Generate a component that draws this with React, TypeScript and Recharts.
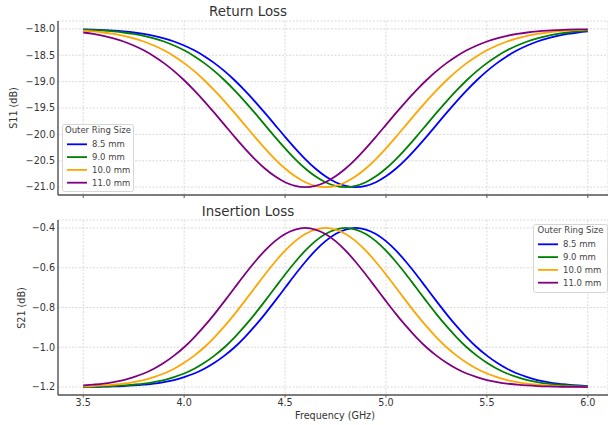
import React from 'react';
import { LineChart, Line, XAxis, YAxis, CartesianGrid } from 'recharts';

const freqs = [
  3.5, 3.55, 3.6, 3.65, 3.7, 3.75, 3.8, 3.85, 3.9, 3.95,
  4.0, 4.05, 4.1, 4.15, 4.2, 4.25, 4.3, 4.35, 4.4, 4.45,
  4.5, 4.55, 4.6, 4.65, 4.7, 4.75, 4.8, 4.85, 4.9, 4.95,
  5.0, 5.05, 5.1, 5.15, 5.2, 5.25, 5.3, 5.35, 5.4, 5.45,
  5.5, 5.55, 5.6, 5.65, 5.7, 5.75, 5.8, 5.85, 5.9, 5.95, 6.0,
];

const seriesNames = ['8.5 mm', '9.0 mm', '10.0 mm', '11.0 mm'];
const seriesColors = ['#0000ff', '#008000', '#ffa500', '#800080'];

// Return loss S11 (dB)
const s11_85 = [
  -18.010, -18.015, -18.023, -18.033, -18.048, -18.068, -18.096, -18.132, -18.179, -18.239,
  -18.314, -18.406, -18.517, -18.649, -18.801, -18.974, -19.166, -19.373, -19.593, -19.820,
  -20.046, -20.264, -20.468, -20.648, -20.796, -20.908, -20.977, -21.000,
  -20.977, -20.908, -20.796, -20.648, -20.468, -20.264, -20.046, -19.820, -19.593, -19.373,
  -19.166, -18.974, -18.801, -18.649, -18.517, -18.406, -18.314, -18.239, -18.179, -18.132,
  -18.096, -18.068, -18.048,
];
const s11_90 = [
  -18.015, -18.023, -18.033, -18.048, -18.068, -18.096, -18.132, -18.179, -18.239, -18.314,
  -18.406, -18.517, -18.649, -18.801, -18.974, -19.166, -19.373, -19.593, -19.820, -20.046,
  -20.264, -20.468, -20.648, -20.796, -20.908, -20.977, -21.000,
  -20.977, -20.908, -20.796, -20.648, -20.468, -20.264, -20.046, -19.820, -19.593, -19.373,
  -19.166, -18.974, -18.801, -18.649, -18.517, -18.406, -18.314, -18.239, -18.179, -18.132,
  -18.096, -18.068, -18.048, -18.033,
];
const s11_100 = [
  -18.033, -18.048, -18.068, -18.096, -18.132, -18.179, -18.239, -18.314, -18.406, -18.517,
  -18.649, -18.801, -18.974, -19.166, -19.373, -19.593, -19.820, -20.046, -20.264, -20.468,
  -20.648, -20.796, -20.908, -20.977, -21.000,
  -20.977, -20.908, -20.796, -20.648, -20.468, -20.264, -20.046, -19.820, -19.593, -19.373,
  -19.166, -18.974, -18.801, -18.649, -18.517, -18.406, -18.314, -18.239, -18.179, -18.132,
  -18.096, -18.068, -18.048, -18.033, -18.023, -18.015,
];
const s11_110 = [
  -18.068, -18.096, -18.132, -18.179, -18.239, -18.314, -18.406, -18.517, -18.649, -18.801,
  -18.974, -19.166, -19.373, -19.593, -19.820, -20.046, -20.264, -20.468, -20.648, -20.796,
  -20.908, -20.977, -21.000,
  -20.977, -20.908, -20.796, -20.648, -20.468, -20.264, -20.046, -19.820, -19.593, -19.373,
  -19.166, -18.974, -18.801, -18.649, -18.517, -18.406, -18.314, -18.239, -18.179, -18.132,
  -18.096, -18.068, -18.048, -18.033, -18.023, -18.015, -18.010, -18.007,
];

// Insertion loss S21 (dB)
const s21_85 = [
  -1.199, -1.199, -1.198, -1.197, -1.195, -1.192, -1.188, -1.183, -1.175, -1.165,
  -1.150, -1.132, -1.108, -1.078, -1.042, -1.000, -0.950, -0.894, -0.833, -0.768,
  -0.701, -0.634, -0.571, -0.514, -0.466, -0.430, -0.408, -0.400,
  -0.408, -0.430, -0.466, -0.514, -0.571, -0.634, -0.701, -0.768, -0.833, -0.894,
  -0.950, -1.000, -1.042, -1.078, -1.108, -1.132, -1.150, -1.165, -1.175, -1.183,
  -1.188, -1.192, -1.195,
];
const s21_90 = [
  -1.199, -1.198, -1.197, -1.195, -1.192, -1.188, -1.183, -1.175, -1.165, -1.150,
  -1.132, -1.108, -1.078, -1.042, -1.000, -0.950, -0.894, -0.833, -0.768, -0.701,
  -0.634, -0.571, -0.514, -0.466, -0.430, -0.408, -0.400,
  -0.408, -0.430, -0.466, -0.514, -0.571, -0.634, -0.701, -0.768, -0.833, -0.894,
  -0.950, -1.000, -1.042, -1.078, -1.108, -1.132, -1.150, -1.165, -1.175, -1.183,
  -1.188, -1.192, -1.195, -1.197,
];
const s21_100 = [
  -1.197, -1.195, -1.192, -1.188, -1.183, -1.175, -1.165, -1.150, -1.132, -1.108,
  -1.078, -1.042, -1.000, -0.950, -0.894, -0.833, -0.768, -0.701, -0.634, -0.571,
  -0.514, -0.466, -0.430, -0.408, -0.400,
  -0.408, -0.430, -0.466, -0.514, -0.571, -0.634, -0.701, -0.768, -0.833, -0.894,
  -0.950, -1.000, -1.042, -1.078, -1.108, -1.132, -1.150, -1.165, -1.175, -1.183,
  -1.188, -1.192, -1.195, -1.197, -1.198, -1.199,
];
const s21_110 = [
  -1.192, -1.188, -1.183, -1.175, -1.165, -1.150, -1.132, -1.108, -1.078, -1.042,
  -1.000, -0.950, -0.894, -0.833, -0.768, -0.701, -0.634, -0.571, -0.514, -0.466,
  -0.430, -0.408, -0.400,
  -0.408, -0.430, -0.466, -0.514, -0.571, -0.634, -0.701, -0.768, -0.833, -0.894,
  -0.950, -1.000, -1.042, -1.078, -1.108, -1.132, -1.150, -1.165, -1.175, -1.183,
  -1.188, -1.192, -1.195, -1.197, -1.198, -1.199, -1.199, -1.200,
];

const xTicks = [3.5, 4.0, 4.5, 5.0, 5.5, 6.0];
const s11Ticks = [-21.0, -20.5, -20.0, -19.5, -19.0, -18.5, -18.0];
const s21Ticks = [-1.2, -1.0, -0.8, -0.6, -0.4];

const keys = ['a', 'b', 'c', 'd'];

const s11Data = freqs.map((f, i) => ({
  f, a: s11_85[i], b: s11_90[i], c: s11_100[i], d: s11_110[i],
}));
const s21Data = freqs.map((f, i) => ({
  f, a: s21_85[i], b: s21_90[i], c: s21_100[i], d: s21_110[i],
}));

const FONT = '"DejaVu Sans", sans-serif';
const TEXT = '#333';
const fmt = (v: number) => {
  const s = Math.abs(v).toFixed(1);
  return v < 0 ? '\u2212' + s : s;
};
const fmtX = (v: number) => v.toFixed(1);

const tickStyle = { fontSize: 9.6, fill: TEXT, fontFamily: FONT };
const axisLine = { stroke: '#555', strokeWidth: 1.4 };

function Legend({ x, y, w, h }: { x: number; y: number; w: number; h: number }) {
  return (
    <g>
      <rect x={x + 0.5} y={y + 0.5} width={w} height={h} rx={2} fill="#fff" fillOpacity={0.85} stroke="#ccc" strokeWidth={0.8} />
      <text x={x + w / 2 + 0.5} y={y + 9.3} textAnchor="middle" fontSize={8.5} fill="#444" fontFamily={FONT}>
        Outer Ring Size
      </text>
      {seriesNames.map((n, i) => (
        <g key={n}>
          <line x1={x + 5} x2={x + 25} y1={y + 20.3 + i * 12.8} y2={y + 20.3 + i * 12.8} stroke={seriesColors[i]} strokeWidth={1.8} />
          <text x={x + 30} y={y + 23.3 + i * 12.8} fontSize={8.5} fill="#444" fontFamily={FONT}>
            {n}
          </text>
        </g>
      ))}
    </g>
  );
}

export default function App() {
  return (
    <div style={{ position: 'absolute', left: 0, top: 0, width: 608, height: 425, background: '#fff', overflow: 'hidden' }}>
      <div style={{ position: 'absolute', left: 0, top: 0 }}>
        <LineChart width={608} height={210} data={s11Data} margin={{ top: 21, right: 0, bottom: 0, left: 0 }}>
          <CartesianGrid stroke="#cfcfcf" strokeDasharray="2 1.5" strokeWidth={0.8} />
          <XAxis
            dataKey="f" type="number" domain={[3.375, 6.1]} ticks={xTicks} allowDataOverflow
            height={15} axisLine={axisLine} tickLine={{ stroke: '#555' }} tickSize={3}
            tickFormatter={() => ''} tick={tickStyle}
          />
          <YAxis
            type="number" domain={[-21.15, -17.85]} ticks={s11Ticks} allowDataOverflow
            width={58} axisLine={axisLine} tickLine={false} tickSize={0} tickMargin={3}
            tickFormatter={fmt} tick={tickStyle}
          />
          {keys.map((k, i) => (
            <Line key={k} type="monotone" dataKey={k} stroke={seriesColors[i]} strokeWidth={1.8} dot={false} isAnimationActive={false} />
          ))}
        </LineChart>
      </div>
      <div style={{ position: 'absolute', left: 0, top: 210 }}>
        <LineChart width={608} height={215} data={s21Data} margin={{ top: 10, right: 0, bottom: 0, left: 0 }}>
          <CartesianGrid stroke="#cfcfcf" strokeDasharray="2 1.5" strokeWidth={0.8} />
          <XAxis
            dataKey="f" type="number" domain={[3.375, 6.1]} ticks={xTicks} allowDataOverflow
            height={30} axisLine={axisLine} tickLine={{ stroke: '#555' }} tickSize={2.5} tickMargin={2}
            tickFormatter={fmtX} tick={tickStyle}
          />
          <YAxis
            type="number" domain={[-1.24, -0.36]} ticks={s21Ticks} allowDataOverflow
            width={58} axisLine={axisLine} tickLine={false} tickSize={0} tickMargin={3}
            tickFormatter={fmt} tick={tickStyle}
          />
          {keys.map((k, i) => (
            <Line key={k} type="monotone" dataKey={k} stroke={seriesColors[i]} strokeWidth={1.8} dot={false} isAnimationActive={false} />
          ))}
        </LineChart>
      </div>
      <svg width={608} height={425} style={{ position: 'absolute', left: 0, top: 0, pointerEvents: 'none' }}>
        <text x={248} y={15.8} textAnchor="middle" fontSize={13.4} fill={TEXT} fontFamily={FONT}>Return Loss</text>
        <text x={248} y={216} textAnchor="middle" fontSize={13.4} fill={TEXT} fontFamily={FONT}>Insertion Loss</text>
        <text x={335} y={419} textAnchor="middle" fontSize={9.6} fill={TEXT} fontFamily={FONT}>Frequency (GHz)</text>
        <text transform="translate(16.5,108) rotate(-90)" textAnchor="middle" fontSize={9.6} fill={TEXT} fontFamily={FONT}>S11 (dB)</text>
        <text transform="translate(24.5,308) rotate(-90)" textAnchor="middle" fontSize={9.6} fill={TEXT} fontFamily={FONT}>S21 (dB)</text>
        <Legend x={62} y={124} w={71} h={67} />
        <Legend x={533} y={224} w={74} h={68} />
      </svg>
    </div>
  );
}
